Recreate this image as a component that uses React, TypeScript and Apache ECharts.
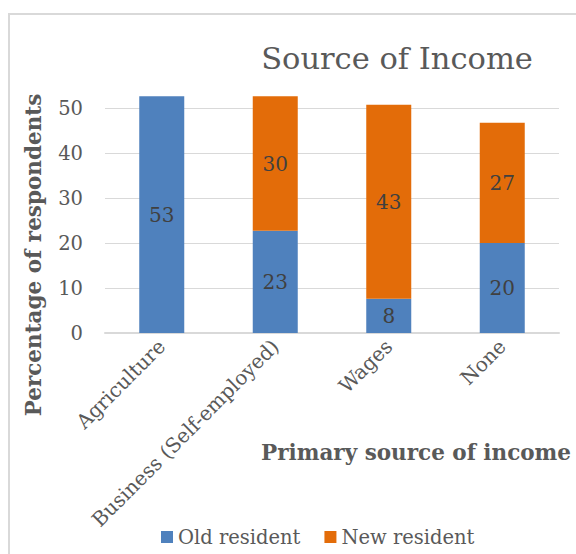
import React, { useEffect, useRef } from "react";
import * as echarts from "echarts";

const categories = ["Agriculture", "Business (Self-employed)", "Wages", "None"];
const oldResident = [52.6, 22.7, 7.6, 20.0];
const newResident = [0, 29.9, 43.1, 26.7];
const seriesNames = ["Old resident", "New resident"];
const chartTitle = "Source of Income";
const xTitle = "Primary source of income";
const yTitle = "Percentage of respondents";

const FONT = "'DejaVu Serif', serif";

export default function App() {
  const ref = useRef<HTMLDivElement>(null);
  useEffect(() => {
    if (!ref.current) return;
    const chart = echarts.init(ref.current, null, { renderer: "svg" });
    const labelFmt = (p: any) => (p.value ? String(Math.round(p.value)) : "");
    chart.setOption({
      animation: false,
      backgroundColor: "#ffffff",
      textStyle: { fontFamily: FONT },
      grid: { left: 105, right: 17, top: 63, bottom: 221, containLabel: false },
      legend: {
        data: seriesNames,
        left: 156,
        top: 522,
        itemWidth: 12,
        itemHeight: 12,
        itemGap: 24,
        icon: "rect",
        textStyle: { fontFamily: FONT, fontSize: 19.5, color: "#595959" },
      },
      xAxis: {
        type: "category",
        data: categories,
        axisLine: { lineStyle: { color: "#d9d9d9", width: 2 } },
        axisTick: { show: false },
        axisLabel: {
          rotate: 45,
          margin: 10,
          interval: 0,
          fontFamily: FONT,
          fontSize: 20,
          color: "#595959",
        },
      },
      yAxis: {
        type: "value",
        min: 0,
        max: 60,
        interval: 10,
        axisLine: { show: false },
        axisTick: { show: false },
        axisLabel: {
          showMaxLabel: false,
          margin: 22,
          fontFamily: FONT,
          fontSize: 19.5,
          color: "#595959",
        },
        splitLine: {
          lineStyle: {
            width: 1,
            color: ["#d9d9d9", "#d9d9d9", "#d9d9d9", "#d9d9d9", "#d9d9d9", "#d9d9d9", "rgba(0,0,0,0)"],
          },
        },
      },
      series: [
        {
          name: seriesNames[0],
          type: "bar",
          stack: "total",
          data: oldResident,
          barWidth: 45,
          itemStyle: { color: "#4F81BD" },
          label: {
            show: true,
            position: "inside",
            formatter: labelFmt,
            fontFamily: FONT,
            fontSize: 20,
            color: "#404040",
          },
        },
        {
          name: seriesNames[1],
          type: "bar",
          stack: "total",
          data: newResident,
          barWidth: 45,
          itemStyle: { color: "#E36C09" },
          label: {
            show: true,
            position: "inside",
            formatter: labelFmt,
            fontFamily: FONT,
            fontSize: 20,
            color: "#404040",
          },
        },
      ],
      graphic: [
        {
          type: "rect",
          shape: { x: 9, y: 14, width: 700, height: 700 },
          style: { fill: "none", stroke: "#d9d9d9", lineWidth: 2 },
          silent: true,
        },
        {
          type: "text",
          x: 397,
          y: 58,
          style: {
            text: chartTitle,
            fontFamily: FONT,
            fontSize: 30.5,
            fill: "#595959",
            textAlign: "center",
            textVerticalAlign: "middle",
          },
        },
        {
          type: "text",
          x: 416,
          y: 452,
          style: {
            text: xTitle,
            fontFamily: FONT,
            fontWeight: "bold",
            fontSize: 21.5,
            fill: "#595959",
            textAlign: "center",
            textVerticalAlign: "middle",
          },
        },
        {
          type: "text",
          x: 33,
          y: 255,
          rotation: Math.PI / 2,
          style: {
            text: yTitle,
            fontFamily: FONT,
            fontWeight: "bold",
            fontSize: 21.5,
            fill: "#595959",
            textAlign: "center",
            textVerticalAlign: "middle",
          },
        },
      ],
    });
    return () => chart.dispose();
  }, []);
  return (
    <div
      ref={ref}
      style={{ position: "absolute", left: 0, top: 0, width: 576, height: 554 }}
    />
  );
}
